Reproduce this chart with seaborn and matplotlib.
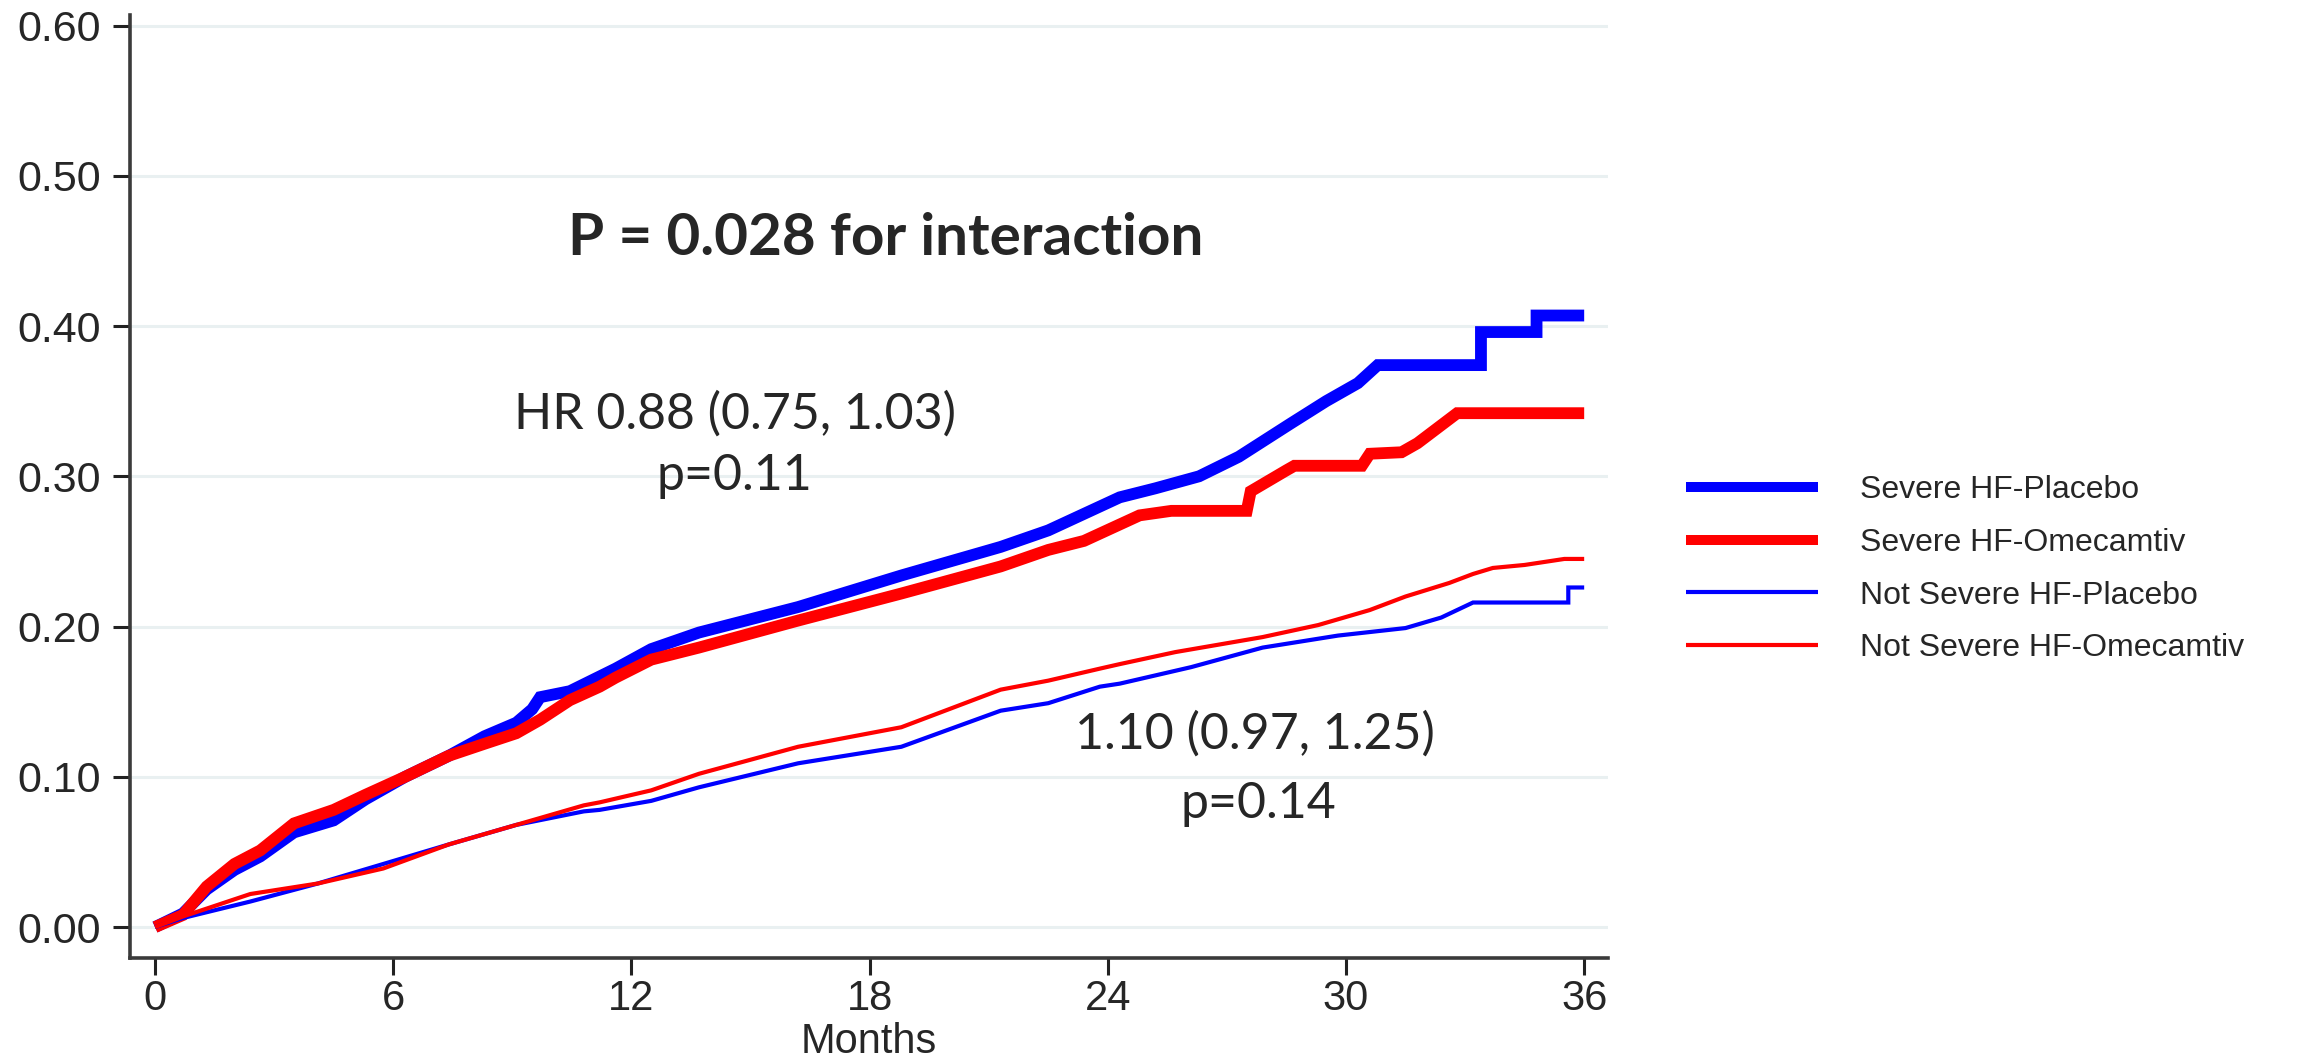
import numpy as np
import pandas as pd
import matplotlib
matplotlib.use('Agg')
import matplotlib.pyplot as plt
import seaborn as sns

# Cumulative incidence (months, proportion)
severe_placebo_t = [0, 0.7, 1.3, 2.0, 2.65, 3.5, 4.5, 5.3, 6.3, 7.4, 8.3, 9.1, 9.5, 9.7,
                    10.45, 11.6, 12.5, 13.7, 16.2, 18.8, 21.3, 22.5, 24.3, 25.2, 26.3,
                    27.3, 28.6, 29.5, 30.3, 30.8, 33.4, 33.4, 34.8, 34.8, 36.0]
severe_placebo_y = [0, 0.009, 0.025, 0.038, 0.047, 0.063, 0.071, 0.085, 0.100, 0.114, 0.127,
                    0.136, 0.145, 0.153, 0.157, 0.172, 0.185, 0.196, 0.213, 0.234, 0.253,
                    0.264, 0.286, 0.292, 0.300, 0.313, 0.335, 0.350, 0.362, 0.374, 0.374,
                    0.396, 0.396, 0.407, 0.407]

severe_omecamtiv_t = [0, 0.7, 1.3, 2.0, 2.65, 3.5, 4.5, 5.3, 6.3, 7.4, 8.3, 9.1, 9.7, 10.45,
                      11.2, 11.6, 12.5, 13.7, 16.2, 18.8, 21.3, 22.5, 23.4, 24.8, 25.6,
                      27.5, 27.6, 28.5, 28.7, 30.4, 30.6, 31.4, 31.8, 32.3, 32.8, 36.0]
severe_omecamtiv_y = [0, 0.008, 0.027, 0.042, 0.051, 0.069, 0.078, 0.088, 0.100, 0.114, 0.122,
                      0.129, 0.138, 0.151, 0.160, 0.166, 0.178, 0.186, 0.204, 0.222, 0.240,
                      0.251, 0.257, 0.274, 0.277, 0.277, 0.290, 0.304, 0.307, 0.307, 0.315,
                      0.316, 0.322, 0.332, 0.342, 0.342]

notsevere_placebo_t = [0, 0.7, 2.4, 4.1, 5.75, 7.4, 9.1, 10.8, 11.2, 12.5, 13.7, 16.2, 18.8,
                       21.3, 22.5, 23.8, 24.3, 26.1, 27.9, 29.8, 31.5, 32.4, 33.2, 35.6,
                       35.6, 36.0]
notsevere_placebo_y = [0, 0.006, 0.017, 0.029, 0.042, 0.055, 0.068, 0.077, 0.078, 0.084, 0.093,
                       0.109, 0.120, 0.144, 0.149, 0.160, 0.162, 0.173, 0.186, 0.194, 0.199,
                       0.206, 0.216, 0.216, 0.226, 0.226]

notsevere_omecamtiv_t = [0, 0.7, 2.4, 4.1, 5.75, 7.4, 9.1, 10.8, 11.2, 12.5, 13.7, 16.2, 18.8,
                         21.3, 22.5, 23.8, 24.3, 25.7, 27.9, 29.3, 30.6, 31.5, 32.6, 33.2,
                         33.7, 34.5, 35.5, 36.0]
notsevere_omecamtiv_y = [0, 0.007, 0.022, 0.029, 0.039, 0.055, 0.068, 0.081, 0.083, 0.091,
                         0.102, 0.120, 0.133, 0.158, 0.164, 0.172, 0.175, 0.183, 0.193, 0.201,
                         0.211, 0.220, 0.229, 0.235, 0.239, 0.241, 0.245, 0.245]

group_labels = ['Severe HF-Placebo', 'Severe HF-Omecamtiv',
                'Not Severe HF-Placebo', 'Not Severe HF-Omecamtiv']
x_ticks = [0, 6, 12, 18, 24, 30, 36]
y_ticks = [0.0, 0.1, 0.2, 0.3, 0.4, 0.5, 0.6]

series = [
    (group_labels[0], severe_placebo_t, severe_placebo_y, '#0000FF', 8.5),
    (group_labels[1], severe_omecamtiv_t, severe_omecamtiv_y, '#FF0000', 8.5),
    (group_labels[2], notsevere_placebo_t, notsevere_placebo_y, '#0000FF', 3.0),
    (group_labels[3], notsevere_omecamtiv_t, notsevere_omecamtiv_y, '#FF0000', 3.0),
]

sns.set_theme(style='white')
plt.rcParams['font.family'] = ['Liberation Sans', 'DejaVu Sans']

fig = plt.figure(figsize=(23.18, 10.64), dpi=100)
ax = fig.add_axes([0.0561, 0.0996, 0.6376, 0.8863])

# light horizontal grid
for yv in y_ticks:
    ax.axhline(yv, color='#E9F0F1', linewidth=2.2, zorder=0)

for label, t, y, color, lw in series:
    df = pd.DataFrame({'Months': t, 'risk': y})
    sns.lineplot(data=df, x='Months', y='risk', ax=ax, color=color, linewidth=lw,
                 estimator=None, sort=False, label=label,
                 solid_joinstyle='miter', solid_capstyle='butt')

ax.set_xlim(-0.63, 36.6)
ax.set_ylim(-0.0206, 0.607)
ax.set_xticks(x_ticks)
ax.set_yticks(y_ticks)
ax.set_yticklabels([f'{v:.2f}' for v in y_ticks])
ax.tick_params(axis='both', labelsize=30, length=12, width=2.2, color='#222222',
               direction='out', left=True, bottom=True)
ax.tick_params(axis='y', pad=9, labelsize=31)
ax.tick_params(axis='x', pad=3)
ax.set_xlabel('Months', fontsize=30, labelpad=2)
ax.set_ylabel('')
for side in ['top', 'right']:
    ax.spines[side].set_visible(False)
for side in ['left', 'bottom']:
    ax.spines[side].set_color('#3a3a3a')
    ax.spines[side].set_linewidth(2.6)
ax.grid(False)

# annotations
anno_font = ['Lato', 'DejaVu Sans']
ax.text(18.4, 0.458, 'P = 0.028 for interaction', ha='center', va='center',
        fontsize=42, fontweight='bold', family=anno_font)
ax.text(14.6, 0.341, 'HR 0.88 (0.75, 1.03)', ha='center', va='center',
        fontsize=36, family=anno_font)
ax.text(14.6, 0.300, 'p=0.11', ha='center', va='center', fontsize=36, family=anno_font)
ax.text(27.7, 0.128, '1.10 (0.97, 1.25)', ha='center', va='center',
        fontsize=36, family=anno_font)
ax.text(27.8, 0.082, 'p=0.14', ha='center', va='center', fontsize=36, family=anno_font)

handles, labels = ax.get_legend_handles_labels()
ax.get_legend().remove()
leg = fig.legend(handles, labels, loc='center left', bbox_to_anchor=(0.7148, 0.465),
                 frameon=False, fontsize=23, handlelength=4.15, handletextpad=1.3,
                 labelspacing=0.71)
for line, lw in zip(leg.get_lines(), [7.2, 7.2, 3, 3]):
    line.set_linewidth(lw)
    line.set_solid_capstyle('butt')

fig.savefig('out.png', dpi=100)
